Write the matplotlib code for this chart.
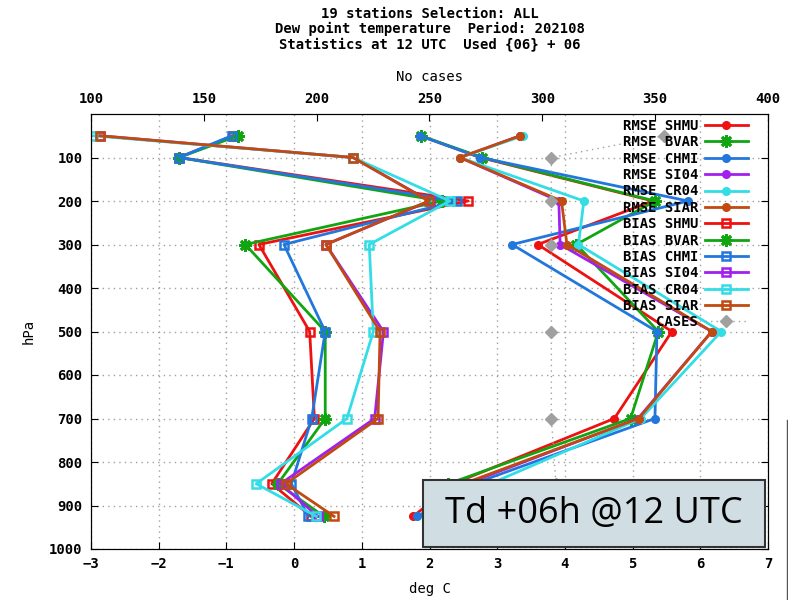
import numpy as np
import matplotlib.pyplot as plt
from matplotlib.patches import Rectangle
from matplotlib.lines import Line2D

# pressure levels (hPa)
levels = [50, 100, 200, 300, 500, 700, 850, 925]

# RMSE per station (deg C)
rmse_shmu = [1.86, 2.75, 5.30, 3.60, 5.58, 4.73, 2.35, 1.76]
rmse_bvar = [1.87, 2.78, 5.33, 4.17, 5.38, 4.97, 2.28, 2.00]
rmse_chmi = [1.86, 2.75, 5.82, 3.22, 5.36, 5.33, 2.65, 1.82]
rmse_si04 = [3.34, 2.45, 3.91, 3.93, 6.17, 5.08, 2.55, 2.10]
rmse_cr04 = [3.38, 2.45, 4.28, 4.20, 6.31, 5.12, 2.90, 2.20]
rmse_siar = [3.34, 2.45, 3.95, 4.03, 6.17, 5.09, 2.50, 2.10]

# BIAS per station (deg C)
bias_shmu = [-0.90, -1.70, 2.57, -0.52, 0.23, 0.30, -0.33, 0.25]
bias_bvar = [-0.83, -1.70, 2.18, -0.72, 0.46, 0.46, -0.24, 0.44]
bias_chmi = [-0.92, -1.70, 2.40, -0.15, 0.46, 0.26, -0.04, 0.21]
bias_si04 = [-2.87, 0.87, 2.00, 0.47, 1.32, 1.19, -0.20, 0.35]
bias_cr04 = [-2.97, 0.87, 2.30, 1.11, 1.17, 0.78, -0.56, 0.33]
bias_siar = [-2.87, 0.87, 1.99, 0.47, 1.27, 1.24, -0.12, 0.59]

# number of cases
cases = [354, 304, 304, 304, 304, 304, 306, 304]

stations = ['SHMU', 'BVAR', 'CHMI', 'SI04', 'CR04', 'SIAR']
colors = ['#ee1111', '#11a611', '#2277dd', '#a020f0', '#33dde6', '#c04a10']
rmse = [rmse_shmu, rmse_bvar, rmse_chmi, rmse_si04, rmse_cr04, rmse_siar]
bias = [bias_shmu, bias_bvar, bias_chmi, bias_si04, bias_cr04, bias_siar]

plt.rcParams['font.family'] = 'DejaVu Sans Mono'
plt.rcParams['font.weight'] = 'bold'
plt.rcParams['font.size'] = 10

fig = plt.figure(figsize=(7.88, 6), dpi=100)
ax = fig.add_axes([91/788, 1-549/600, (768-91)/788, (549-114)/600])

handles = []
for name, c, vals in zip(stations, colors, rmse):
    if name == 'BVAR':
        h, = ax.plot(vals, levels, color=c, lw=2, marker=(8, 2, 0), ms=9,
                     mew=2, label='RMSE ' + name)
    else:
        h, = ax.plot(vals, levels, color=c, lw=2, marker='o', ms=5.5,
                     label='RMSE ' + name)
    handles.append(h)
for name, c, vals in zip(stations, colors, bias):
    if name == 'BVAR':
        h, = ax.plot(vals, levels, color=c, lw=2, marker=(8, 2, 0), ms=9,
                     mew=2, label='BIAS ' + name)
    else:
        h, = ax.plot(vals, levels, color=c, lw=2, marker='s', ms=5.5,
                     mfc='none', mew=1.8, label='BIAS ' + name)
    handles.append(h)

ax.set_xlim(-3, 7)
ax.set_ylim(1000, 0)
ax.set_xticks(range(-3, 8))
ax.set_yticks(range(100, 1001, 100))
ax.grid(color='#a0a0a0', linestyle=(0, (1, 3)), linewidth=1)
ax.tick_params(direction='in', length=5, right=True, top=False, pad=6)
ax.set_xlabel('deg C', labelpad=8)
ax.set_ylabel('hPa', labelpad=10)

ax2 = ax.twiny()
ax2.set_xlim(100, 400)
ax2.set_xticks(range(100, 401, 50))
ax2.tick_params(direction='in', length=5, pad=6)
ax2.set_xlabel('No cases', labelpad=8)
hc, = ax2.plot(cases, levels, color='#a0a0a0', lw=1, ls=(0, (1, 3)),
               marker='D', ms=6, label='CASES')
handles.append(hc)

leg = ax2.legend(handles=handles, loc='upper right', markerfirst=False,
                 frameon=False, bbox_to_anchor=(748/788, 1-119/600),
                 bbox_transform=fig.transFigure, borderpad=0,
                 handlelength=3.1, handletextpad=0.5, labelspacing=0.17,
                 borderaxespad=0)

fig.text(429.5/788, 1-29/600,
         '19 stations Selection: ALL\n'
         'Dew point temperature  Period: 202108\n'
         'Statistics at 12 UTC  Used {06} + 06',
         ha='center', va='center', linespacing=1.1)

# annotation box
fig.patches.append(Rectangle((423/788, 1-547/600), (765-423)/788, 67/600,
                             transform=fig.transFigure, facecolor='#d0dee3',
                             edgecolor='#333333', lw=1.5, zorder=5))
fig.text(594/788, 1-514/600, 'Td +06h @12 UTC', ha='center', va='center',
         family='Open Sans', weight='normal', fontsize=26, zorder=6)
fig.add_artist(Line2D([787/788, 787/788], [0, 1-420/600],
                      transform=fig.transFigure, color='#555555', lw=1))

fig.savefig('out.png', dpi=100)
